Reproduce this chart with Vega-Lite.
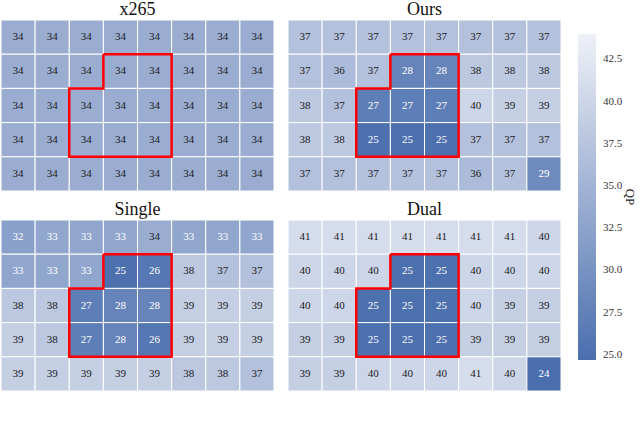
{
  "$schema": "https://vega.github.io/schema/vega-lite/v6.json",
  "padding": {"left": 0, "top": 0, "right": 0, "bottom": 0},
  "background": "white",
  "config": {
    "view": {"stroke": null},
    "font": "Liberation Serif",
    "text": {"font": "Liberation Serif"},
    "legend": {"labelFont": "Liberation Serif", "titleFont": "Liberation Serif"},
    "title": {"font": "Liberation Serif", "fontWeight": "normal", "fontSize": 18, "color": "#111", "offset": 1}
  },
  "title": {"text": "Fig. 4. Visualization of QP values", "orient": "bottom", "fontSize": 22, "color": "#444", "offset": 30, "anchor": "middle"},
  "datasets": {
    "cells": [
      {"p":"x265","r":0,"c":0,"v":34},{"p":"x265","r":0,"c":1,"v":34},{"p":"x265","r":0,"c":2,"v":34},{"p":"x265","r":0,"c":3,"v":34},{"p":"x265","r":0,"c":4,"v":34},{"p":"x265","r":0,"c":5,"v":34},{"p":"x265","r":0,"c":6,"v":34},{"p":"x265","r":0,"c":7,"v":34},
      {"p":"x265","r":1,"c":0,"v":34},{"p":"x265","r":1,"c":1,"v":34},{"p":"x265","r":1,"c":2,"v":34},{"p":"x265","r":1,"c":3,"v":34},{"p":"x265","r":1,"c":4,"v":34},{"p":"x265","r":1,"c":5,"v":34},{"p":"x265","r":1,"c":6,"v":34},{"p":"x265","r":1,"c":7,"v":34},
      {"p":"x265","r":2,"c":0,"v":34},{"p":"x265","r":2,"c":1,"v":34},{"p":"x265","r":2,"c":2,"v":34},{"p":"x265","r":2,"c":3,"v":34},{"p":"x265","r":2,"c":4,"v":34},{"p":"x265","r":2,"c":5,"v":34},{"p":"x265","r":2,"c":6,"v":34},{"p":"x265","r":2,"c":7,"v":34},
      {"p":"x265","r":3,"c":0,"v":34},{"p":"x265","r":3,"c":1,"v":34},{"p":"x265","r":3,"c":2,"v":34},{"p":"x265","r":3,"c":3,"v":34},{"p":"x265","r":3,"c":4,"v":34},{"p":"x265","r":3,"c":5,"v":34},{"p":"x265","r":3,"c":6,"v":34},{"p":"x265","r":3,"c":7,"v":34},
      {"p":"x265","r":4,"c":0,"v":34},{"p":"x265","r":4,"c":1,"v":34},{"p":"x265","r":4,"c":2,"v":34},{"p":"x265","r":4,"c":3,"v":34},{"p":"x265","r":4,"c":4,"v":34},{"p":"x265","r":4,"c":5,"v":34},{"p":"x265","r":4,"c":6,"v":34},{"p":"x265","r":4,"c":7,"v":34},

      {"p":"Ours","r":0,"c":0,"v":37},{"p":"Ours","r":0,"c":1,"v":37},{"p":"Ours","r":0,"c":2,"v":37},{"p":"Ours","r":0,"c":3,"v":37},{"p":"Ours","r":0,"c":4,"v":37},{"p":"Ours","r":0,"c":5,"v":37},{"p":"Ours","r":0,"c":6,"v":37},{"p":"Ours","r":0,"c":7,"v":37},
      {"p":"Ours","r":1,"c":0,"v":37},{"p":"Ours","r":1,"c":1,"v":36},{"p":"Ours","r":1,"c":2,"v":37},{"p":"Ours","r":1,"c":3,"v":28},{"p":"Ours","r":1,"c":4,"v":28},{"p":"Ours","r":1,"c":5,"v":38},{"p":"Ours","r":1,"c":6,"v":38},{"p":"Ours","r":1,"c":7,"v":38},
      {"p":"Ours","r":2,"c":0,"v":38},{"p":"Ours","r":2,"c":1,"v":37},{"p":"Ours","r":2,"c":2,"v":27},{"p":"Ours","r":2,"c":3,"v":27},{"p":"Ours","r":2,"c":4,"v":27},{"p":"Ours","r":2,"c":5,"v":40},{"p":"Ours","r":2,"c":6,"v":39},{"p":"Ours","r":2,"c":7,"v":39},
      {"p":"Ours","r":3,"c":0,"v":38},{"p":"Ours","r":3,"c":1,"v":38},{"p":"Ours","r":3,"c":2,"v":25},{"p":"Ours","r":3,"c":3,"v":25},{"p":"Ours","r":3,"c":4,"v":25},{"p":"Ours","r":3,"c":5,"v":37},{"p":"Ours","r":3,"c":6,"v":37},{"p":"Ours","r":3,"c":7,"v":37},
      {"p":"Ours","r":4,"c":0,"v":37},{"p":"Ours","r":4,"c":1,"v":37},{"p":"Ours","r":4,"c":2,"v":37},{"p":"Ours","r":4,"c":3,"v":37},{"p":"Ours","r":4,"c":4,"v":37},{"p":"Ours","r":4,"c":5,"v":36},{"p":"Ours","r":4,"c":6,"v":37},{"p":"Ours","r":4,"c":7,"v":29},

      {"p":"Single","r":0,"c":0,"v":32},{"p":"Single","r":0,"c":1,"v":33},{"p":"Single","r":0,"c":2,"v":33},{"p":"Single","r":0,"c":3,"v":33},{"p":"Single","r":0,"c":4,"v":34},{"p":"Single","r":0,"c":5,"v":33},{"p":"Single","r":0,"c":6,"v":33},{"p":"Single","r":0,"c":7,"v":33},
      {"p":"Single","r":1,"c":0,"v":33},{"p":"Single","r":1,"c":1,"v":33},{"p":"Single","r":1,"c":2,"v":33},{"p":"Single","r":1,"c":3,"v":25},{"p":"Single","r":1,"c":4,"v":26},{"p":"Single","r":1,"c":5,"v":38},{"p":"Single","r":1,"c":6,"v":37},{"p":"Single","r":1,"c":7,"v":37},
      {"p":"Single","r":2,"c":0,"v":38},{"p":"Single","r":2,"c":1,"v":38},{"p":"Single","r":2,"c":2,"v":27},{"p":"Single","r":2,"c":3,"v":28},{"p":"Single","r":2,"c":4,"v":28},{"p":"Single","r":2,"c":5,"v":39},{"p":"Single","r":2,"c":6,"v":39},{"p":"Single","r":2,"c":7,"v":39},
      {"p":"Single","r":3,"c":0,"v":39},{"p":"Single","r":3,"c":1,"v":38},{"p":"Single","r":3,"c":2,"v":27},{"p":"Single","r":3,"c":3,"v":28},{"p":"Single","r":3,"c":4,"v":26},{"p":"Single","r":3,"c":5,"v":39},{"p":"Single","r":3,"c":6,"v":39},{"p":"Single","r":3,"c":7,"v":39},
      {"p":"Single","r":4,"c":0,"v":39},{"p":"Single","r":4,"c":1,"v":39},{"p":"Single","r":4,"c":2,"v":39},{"p":"Single","r":4,"c":3,"v":39},{"p":"Single","r":4,"c":4,"v":39},{"p":"Single","r":4,"c":5,"v":38},{"p":"Single","r":4,"c":6,"v":38},{"p":"Single","r":4,"c":7,"v":37},

      {"p":"Dual","r":0,"c":0,"v":41},{"p":"Dual","r":0,"c":1,"v":41},{"p":"Dual","r":0,"c":2,"v":41},{"p":"Dual","r":0,"c":3,"v":41},{"p":"Dual","r":0,"c":4,"v":41},{"p":"Dual","r":0,"c":5,"v":41},{"p":"Dual","r":0,"c":6,"v":41},{"p":"Dual","r":0,"c":7,"v":40},
      {"p":"Dual","r":1,"c":0,"v":40},{"p":"Dual","r":1,"c":1,"v":40},{"p":"Dual","r":1,"c":2,"v":40},{"p":"Dual","r":1,"c":3,"v":25},{"p":"Dual","r":1,"c":4,"v":25},{"p":"Dual","r":1,"c":5,"v":40},{"p":"Dual","r":1,"c":6,"v":40},{"p":"Dual","r":1,"c":7,"v":40},
      {"p":"Dual","r":2,"c":0,"v":40},{"p":"Dual","r":2,"c":1,"v":40},{"p":"Dual","r":2,"c":2,"v":25},{"p":"Dual","r":2,"c":3,"v":25},{"p":"Dual","r":2,"c":4,"v":25},{"p":"Dual","r":2,"c":5,"v":40},{"p":"Dual","r":2,"c":6,"v":39},{"p":"Dual","r":2,"c":7,"v":39},
      {"p":"Dual","r":3,"c":0,"v":39},{"p":"Dual","r":3,"c":1,"v":39},{"p":"Dual","r":3,"c":2,"v":25},{"p":"Dual","r":3,"c":3,"v":25},{"p":"Dual","r":3,"c":4,"v":25},{"p":"Dual","r":3,"c":5,"v":39},{"p":"Dual","r":3,"c":6,"v":39},{"p":"Dual","r":3,"c":7,"v":39},
      {"p":"Dual","r":4,"c":0,"v":39},{"p":"Dual","r":4,"c":1,"v":39},{"p":"Dual","r":4,"c":2,"v":40},{"p":"Dual","r":4,"c":3,"v":40},{"p":"Dual","r":4,"c":4,"v":40},{"p":"Dual","r":4,"c":5,"v":41},{"p":"Dual","r":4,"c":6,"v":40},{"p":"Dual","r":4,"c":7,"v":24}
    ],
    "outline": [
      {"o":0,"x":3,"y":1},{"o":1,"x":5,"y":1},{"o":2,"x":5,"y":4},{"o":3,"x":2,"y":4},{"o":4,"x":2,"y":2},{"o":5,"x":3,"y":2},{"o":6,"x":3,"y":1}
    ]
  },
  "columns": 2,
  "spacing": {"row": 8, "column": 12},
  "concat": [
    {
      "title": "x265",
      "width": 273, "height": 171,
      "resolve": {"scale": {"x": "independent", "y": "independent"}},
      "layer": [
        {"data": {"name": "cells"}, "transform": [{"filter": "datum.p === 'x265'"}],
         "mark": {"type": "rect", "stroke": "white", "strokeWidth": 1},
         "encoding": {
           "x": {"field": "c", "type": "ordinal", "axis": null, "scale": {"paddingInner": 0, "paddingOuter": 0}},
           "y": {"field": "r", "type": "ordinal", "axis": null, "scale": {"paddingInner": 0, "paddingOuter": 0}},
           "color": {"field": "v", "type": "quantitative", "scale": {"domain": [24.7, 44], "range": ["#4a6eae", "#eff1f7"], "interpolate": "rgb", "clamp": true},
             "legend": {"title": "QP", "orient": "none", "legendX": 577, "legendY": 14, "direction": "vertical", "gradientLength": 326, "gradientThickness": 18, "gradientStrokeWidth": 0, "values": [25, 27.5, 30, 32.5, 35, 37.5, 40, 42.5], "format": ".1f", "labelFont": "Liberation Serif", "labelFontSize": 11, "labelColor": "#333", "labelOffset": 7, "titleFont": "Liberation Serif", "titleFontSize": 13, "titleFontWeight": "normal", "titleColor": "#222", "titleOrient": "right", "titleAngle": 270, "titleAnchor": "middle", "titleBaseline": "middle", "titlePadding": 8}}
         }},
        {"data": {"name": "cells"}, "transform": [{"filter": "datum.p === 'x265'"}],
         "mark": {"type": "text", "fontSize": 11, "font": "Liberation Serif"},
         "encoding": {
           "x": {"field": "c", "type": "ordinal", "axis": null, "scale": {"paddingInner": 0, "paddingOuter": 0}},
           "y": {"field": "r", "type": "ordinal", "axis": null, "scale": {"paddingInner": 0, "paddingOuter": 0}},
           "text": {"field": "v", "type": "quantitative"},
           "color": {"condition": {"test": "datum.v < 33.5", "value": "white"}, "value": "#1a1a1a"}
         }},
        {"data": {"name": "outline"},
         "mark": {"type": "line", "color": "#ff0000", "strokeWidth": 2.5, "strokeJoin": "miter"},
         "encoding": {
           "x": {"field": "x", "type": "quantitative", "axis": null, "scale": {"domain": [0, 8], "nice": false, "zero": false}},
           "y": {"field": "y", "type": "quantitative", "axis": null, "scale": {"domain": [0, 5], "nice": false, "zero": false, "reverse": true}},
           "order": {"field": "o", "type": "quantitative"}
         }}
      ]
    },
    {
      "title": "Ours",
      "width": 273, "height": 171,
      "resolve": {"scale": {"x": "independent", "y": "independent"}},
      "layer": [
        {"data": {"name": "cells"}, "transform": [{"filter": "datum.p === 'Ours'"}],
         "mark": {"type": "rect", "stroke": "white", "strokeWidth": 1},
         "encoding": {
           "x": {"field": "c", "type": "ordinal", "axis": null, "scale": {"paddingInner": 0, "paddingOuter": 0}},
           "y": {"field": "r", "type": "ordinal", "axis": null, "scale": {"paddingInner": 0, "paddingOuter": 0}},
           "color": {"field": "v", "type": "quantitative"}
         }},
        {"data": {"name": "cells"}, "transform": [{"filter": "datum.p === 'Ours'"}],
         "mark": {"type": "text", "fontSize": 11, "font": "Liberation Serif"},
         "encoding": {
           "x": {"field": "c", "type": "ordinal", "axis": null, "scale": {"paddingInner": 0, "paddingOuter": 0}},
           "y": {"field": "r", "type": "ordinal", "axis": null, "scale": {"paddingInner": 0, "paddingOuter": 0}},
           "text": {"field": "v", "type": "quantitative"},
           "color": {"condition": {"test": "datum.v < 33.5", "value": "white"}, "value": "#1a1a1a"}
         }},
        {"data": {"name": "outline"},
         "mark": {"type": "line", "color": "#ff0000", "strokeWidth": 2.5, "strokeJoin": "miter"},
         "encoding": {
           "x": {"field": "x", "type": "quantitative", "axis": null, "scale": {"domain": [0, 8], "nice": false, "zero": false}},
           "y": {"field": "y", "type": "quantitative", "axis": null, "scale": {"domain": [0, 5], "nice": false, "zero": false, "reverse": true}},
           "order": {"field": "o", "type": "quantitative"}
         }}
      ]
    },
    {
      "title": "Single",
      "width": 273, "height": 171,
      "resolve": {"scale": {"x": "independent", "y": "independent"}},
      "layer": [
        {"data": {"name": "cells"}, "transform": [{"filter": "datum.p === 'Single'"}],
         "mark": {"type": "rect", "stroke": "white", "strokeWidth": 1},
         "encoding": {
           "x": {"field": "c", "type": "ordinal", "axis": null, "scale": {"paddingInner": 0, "paddingOuter": 0}},
           "y": {"field": "r", "type": "ordinal", "axis": null, "scale": {"paddingInner": 0, "paddingOuter": 0}},
           "color": {"field": "v", "type": "quantitative"}
         }},
        {"data": {"name": "cells"}, "transform": [{"filter": "datum.p === 'Single'"}],
         "mark": {"type": "text", "fontSize": 11, "font": "Liberation Serif"},
         "encoding": {
           "x": {"field": "c", "type": "ordinal", "axis": null, "scale": {"paddingInner": 0, "paddingOuter": 0}},
           "y": {"field": "r", "type": "ordinal", "axis": null, "scale": {"paddingInner": 0, "paddingOuter": 0}},
           "text": {"field": "v", "type": "quantitative"},
           "color": {"condition": {"test": "datum.v < 33.5", "value": "white"}, "value": "#1a1a1a"}
         }},
        {"data": {"name": "outline"},
         "mark": {"type": "line", "color": "#ff0000", "strokeWidth": 2.5, "strokeJoin": "miter"},
         "encoding": {
           "x": {"field": "x", "type": "quantitative", "axis": null, "scale": {"domain": [0, 8], "nice": false, "zero": false}},
           "y": {"field": "y", "type": "quantitative", "axis": null, "scale": {"domain": [0, 5], "nice": false, "zero": false, "reverse": true}},
           "order": {"field": "o", "type": "quantitative"}
         }}
      ]
    },
    {
      "title": "Dual",
      "width": 273, "height": 171,
      "resolve": {"scale": {"x": "independent", "y": "independent"}},
      "layer": [
        {"data": {"name": "cells"}, "transform": [{"filter": "datum.p === 'Dual'"}],
         "mark": {"type": "rect", "stroke": "white", "strokeWidth": 1},
         "encoding": {
           "x": {"field": "c", "type": "ordinal", "axis": null, "scale": {"paddingInner": 0, "paddingOuter": 0}},
           "y": {"field": "r", "type": "ordinal", "axis": null, "scale": {"paddingInner": 0, "paddingOuter": 0}},
           "color": {"field": "v", "type": "quantitative"}
         }},
        {"data": {"name": "cells"}, "transform": [{"filter": "datum.p === 'Dual'"}],
         "mark": {"type": "text", "fontSize": 11, "font": "Liberation Serif"},
         "encoding": {
           "x": {"field": "c", "type": "ordinal", "axis": null, "scale": {"paddingInner": 0, "paddingOuter": 0}},
           "y": {"field": "r", "type": "ordinal", "axis": null, "scale": {"paddingInner": 0, "paddingOuter": 0}},
           "text": {"field": "v", "type": "quantitative"},
           "color": {"condition": {"test": "datum.v < 33.5", "value": "white"}, "value": "#1a1a1a"}
         }},
        {"data": {"name": "outline"},
         "mark": {"type": "line", "color": "#ff0000", "strokeWidth": 2.5, "strokeJoin": "miter"},
         "encoding": {
           "x": {"field": "x", "type": "quantitative", "axis": null, "scale": {"domain": [0, 8], "nice": false, "zero": false}},
           "y": {"field": "y", "type": "quantitative", "axis": null, "scale": {"domain": [0, 5], "nice": false, "zero": false, "reverse": true}},
           "order": {"field": "o", "type": "quantitative"}
         }}
      ]
    }
  ]
}
